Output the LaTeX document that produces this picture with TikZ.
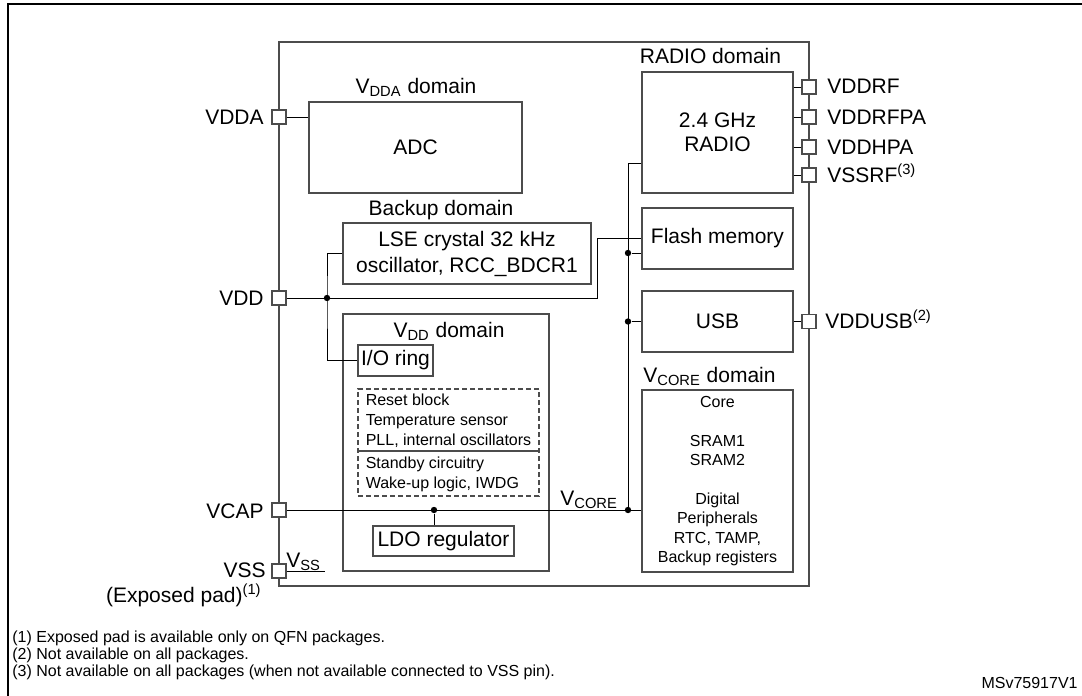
\documentclass[tikz,border=0pt]{standalone}
\usepackage{fontspec}
\setmainfont{Liberation Sans}
\usetikzlibrary{calc}

\tikzset{
  blk/.style={draw=black!70,line width=0.6pt,rectangle,inner sep=0pt},
  pin/.style={draw=black!70,fill=white,line width=0.6pt,rectangle,inner sep=0pt,minimum size=7pt},
  lbl/.style={font=\fontsize{10.5}{12.6}\selectfont,inner sep=0pt},
  small/.style={font=\fontsize{8}{10}\selectfont,inner sep=0pt},
  note/.style={font=\fontsize{8}{9.6}\selectfont,inner sep=0pt},
  wire/.style={line width=0.5pt},
  dot/.style={circle,fill=black,inner sep=0pt,minimum size=3.2pt},
}

\begin{document}
\begin{tikzpicture}[x=0.5pt,y=-0.5pt,line join=miter]
\useasboundingbox (0,0) rectangle (1082,696);
%% page frame
\draw [line width=1.3pt] (8,696) -- (8,4) -- (1082,4);
%% chip outline
\node (chip) at (544,314) [blk,minimum width=265pt,minimum height=272pt] {};
%% blocks
\node (adc) at (415.5,147.5) [blk,lbl,minimum width=106.5pt,minimum height=45.5pt] {ADC};
\node (lse) at (467,253.5) [blk,lbl,align=center,font=\fontsize{10.5}{13}\selectfont,minimum width=124pt,minimum height=30.5pt] {LSE crystal 32 kHz\\oscillator, RCC\_BDCR1};
\node (vdd_dom) at (446,442.5) [blk,minimum width=103pt,minimum height=128.5pt] {};
\node (io) at (395.5,360.5) [blk,lbl,minimum width=37.5pt,minimum height=15.5pt] {I/O ring};
\node (dsh) at (448.5,442.5) [blk,small,dash pattern=on 2.5pt off 1.5pt,align=left,minimum width=90.5pt,minimum height=53.5pt] {Reset block\\Temperature sensor\\PLL, internal oscillators\\[1.5pt]Standby circuitry\\Wake-up logic, IWDG};
\node (ldo) at (443.5,541) [blk,lbl,minimum width=70.5pt,minimum height=15pt] {LDO regulator};
\node (radio) at (717.5,132.5) [blk,lbl,align=center,font=\fontsize{10.5}{12}\selectfont,minimum width=75.5pt,minimum height=60.5pt] {2.4 GHz\\RADIO};
\node (flash) at (717.5,238.5) [blk,lbl,minimum width=75.5pt,minimum height=30.5pt] {Flash memory};
\node (usb) at (717.5,321.5) [blk,lbl,minimum width=75.5pt,minimum height=30.5pt] {USB};
\node (core) at (717.5,481) [blk,small,align=center,font=\fontsize{8}{9.7}\selectfont,minimum width=75.5pt,minimum height=91pt] {Core\\[9.7pt]SRAM1\\SRAM2\\[9.7pt]Digital\\Peripherals\\RTC, TAMP,\\Backup registers};
%% domain titles
\node (t_vdda) at (416,93) [lbl,anchor=base] {V\textsubscript{DDA} domain};
\node (t_bkp) at (441,215) [lbl,anchor=base] {Backup domain};
\node (t_vdd) at (449,337) [lbl,anchor=base] {V\textsubscript{DD} domain};
\node (t_radio) at (710.5,63) [lbl,anchor=base] {RADIO domain};
\node (t_vcore) at (709.5,382) [lbl,anchor=base] {V\textsubscript{CORE} domain};
%% pins
\node (p_vdda) at (279,117) [pin] {};
\node (p_vdd) at (279,298) [pin] {};
\node (p_vcap) at (279,510) [pin] {};
\node (p_vss) at (279,571) [pin] {};
\node (p_vddrf) at (809,87) [pin] {};
\node (p_vddrfpa) at (809,117) [pin] {};
\node (p_vddhpa) at (809,147) [pin] {};
\node (p_vssrf) at (809,175) [pin] {};
\node (p_vddusb) at (809,321.5) [pin] {};
%% pin names
\node (l_vdda) at (264,124) [lbl,anchor=base east] {VDDA};
\node (l_vdd) at (264,305) [lbl,anchor=base east] {VDD};
\node (l_vcap) at (264,518) [lbl,anchor=base east] {VCAP};
\node (l_vss) at (266,577) [lbl,anchor=base east] {VSS};
\node (l_xpad) at (262,602) [lbl,anchor=base east] {(Exposed pad)\textsuperscript{(1)}};
\node (l_vddrf) at (827,93) [lbl,anchor=base west] {VDDRF};
\node (l_vddrfpa) at (827,124) [lbl,anchor=base west] {VDDRFPA};
\node (l_vddhpa) at (827,154) [lbl,anchor=base west] {VDDHPA};
\node (l_vssrf) at (827,182) [lbl,anchor=base west] {VSSRF\textsuperscript{(3)}};
\node (l_vddusb) at (825,328) [lbl,anchor=base west] {VDDUSB\textsuperscript{(2)}};
\node (l_vss_in) at (286,567) [lbl,anchor=base west] {V\textsubscript{SS}};
\node (l_vcore) at (560,505) [lbl,anchor=base west] {V\textsubscript{CORE}};
%% junctions
\coordinate (vdd_up) at (597,298);
\coordinate (bus_t) at (628,163);
\coordinate (bus_b) at (628,510);
\coordinate (vss_end) at (325,571);
\node (d_vdd) at (327,298) [dot] {};
\node (d_ldo) at (434,510) [dot] {};
\node (d_flash) at (628,253) [dot] {};
\node (d_usb) at (628,321.5) [dot] {};
\node (d_core) at (628,510) [dot] {};
%% wiring
\draw [wire] (p_vdda) -- (adc.west |- p_vdda);
\draw [wire] (p_vdd) -- (vdd_up) |- (flash.west);
\draw [wire] (lse.west) -| (d_vdd.center) |- (io.west);
\draw [wire] (radio.west |- bus_t) -- (bus_t) -- (bus_b);
\draw [wire] (d_flash) -- (flash.west |- d_flash);
\draw [wire] (d_usb) -- (usb.west);
\draw [wire] (p_vcap) -- (core.west |- p_vcap);
\draw [wire] (d_ldo) -- (d_ldo |- ldo.north);
\draw [wire] (p_vss) -- (vss_end);
\draw [wire] (radio.east |- p_vddrf) -- (p_vddrf);
\draw [wire] (radio.east |- p_vddrfpa) -- (p_vddrfpa);
\draw [wire] (radio.east |- p_vddhpa) -- (p_vddhpa);
\draw [wire] (radio.east |- p_vssrf) -- (p_vssrf);
\draw [wire] (usb.east) -- (p_vddusb);
\draw [black!70,line width=0.6pt] (dsh.west) ++(0,8.5) -- ++(181,0);
%% notes
\node (n1) at (12,642) [note,anchor=base west] {(1) Exposed pad is available only on QFN packages.};
\node (n2) at (12,659) [note,anchor=base west] {(2) Not available on all packages.};
\node (n3) at (12,676) [note,anchor=base west] {(3) Not available on all packages (when not available connected to VSS pin).};
\node (ref) at (1078,688) [note,anchor=base east] {MSv75917V1};
%
\end{tikzpicture}
\end{document}
